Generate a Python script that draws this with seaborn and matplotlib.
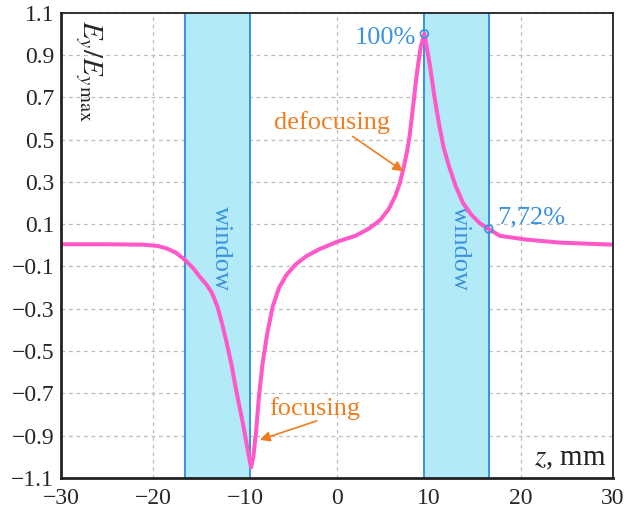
"""Normalized field E_y / E_y max along z with two windows."""

import matplotlib.pyplot as plt
import pandas as pd
import seaborn as sns

# curve
Z_MM = [-30, -25, -21, -19.5, -18.5, -17.5, -16.5, -15.6, -14.9, -14.2, -13.6, -13.0,
        -12.5, -12.0, -11.5, -10.9, -10.2, -9.7, -9.35, -9.1, -8.8, -8.5, -8.1, -7.6,
        -7.0, -6.3, -5.5, -4.5, -3.3, -2.0, 0, 2.0, 3.5, 4.7, 5.6, 6.3, 6.8, 7.2, 7.6,
        7.9, 8.3, 8.7, 9.1, 9.5, 10.1, 10.6, 11.1, 11.6, 12.2, 12.9, 13.7, 14.6, 15.5,
        16.5, 17.7, 20.6, 24.2, 30]
EY_NORM = [0.005, 0.005, 0.003, -0.003, -0.015, -0.035, -0.07, -0.11, -0.15, -0.185, -0.225, -0.29,
           -0.37, -0.46, -0.56, -0.70, -0.85, -0.97, -1.05, -1.0, -0.88, -0.72, -0.56, -0.42,
           -0.29, -0.20, -0.14, -0.09, -0.05, -0.02, 0.017, 0.045, 0.08, 0.12, 0.17, 0.23, 0.29, 0.36, 0.44,
           0.52, 0.67, 0.82, 0.94, 1.0, 0.85, 0.70, 0.57, 0.46, 0.37, 0.28, 0.20, 0.145, 0.105,
           0.0772, 0.045, 0.027, 0.013, 0.003]

WINDOWS = [(-16.5, -9.5), (9.5, 16.5)]
MARK_Z = [9.5, 16.5]
MARK_V = [1.0, 0.0772]
MARK_LABELS = ["100%", "7,72%"]

X_TICKS = [-30, -20, -10, 0, 10, 20, 30]
Y_TICKS = [-1.1, -0.9, -0.7, -0.5, -0.3, -0.1, 0.1, 0.3, 0.5, 0.7, 0.9, 1.1]

PINK = "#ff58c9"
CYAN = "#b3eaf7"
BLUE = "#3a92e0"
ORANGE = "#f07d1e"

sns.set_theme(style="white")
plt.rcParams["font.family"] = ["Liberation Serif", "DejaVu Serif"]
plt.rcParams["mathtext.fontset"] = "stix"

df = pd.DataFrame({"z": Z_MM, "ey": EY_NORM})

fig = plt.figure(figsize=(6.3, 5.09), dpi=100)
ax = fig.add_axes([0.097, 0.061, 0.876, 0.914])

for lo, hi in WINDOWS:
    ax.axvspan(lo, hi, facecolor=CYAN, edgecolor="none", zorder=1)
    for edge in (lo, hi):
        ax.axvline(edge, color=BLUE, lw=1.4, zorder=2)
    ax.text((lo + hi) / 2 + 0.4, -0.016, "window", rotation=270, color=BLUE,
            fontsize=19, ha="center", va="center", zorder=3)

sns.lineplot(data=df, x="z", y="ey", sort=False, color=PINK, lw=2.9, ax=ax, zorder=4,
             solid_joinstyle="round", solid_capstyle="round")

ax.scatter(MARK_Z, MARK_V, s=32, facecolor="none", edgecolor=BLUE, lw=1.2, zorder=5)
ax.text(MARK_Z[0] - 0.9, MARK_V[0] - 0.02, MARK_LABELS[0], color=BLUE, fontsize=19,
        ha="right", va="center", zorder=6)
ax.text(MARK_Z[1] + 0.9, MARK_V[1] + 0.055, MARK_LABELS[1], color=BLUE, fontsize=19,
        ha="left", va="center", zorder=6)

arrow = dict(arrowstyle="-|>", color=ORANGE, lw=1.2, mutation_scale=15, shrinkA=0, shrinkB=0)
ax.text(-0.5, 0.58, "defocusing", color=ORANGE, fontsize=19, ha="center", va="center", zorder=6)
ax.annotate("", xy=(7.2, 0.35), xytext=(1.7, 0.515), arrowprops=arrow, zorder=6)
ax.text(-2.4, -0.77, "focusing", color=ORANGE, fontsize=19, ha="center", va="center", zorder=6)
ax.annotate("", xy=(-8.4, -0.92), xytext=(-2.2, -0.83), arrowprops=arrow, zorder=6)

ax.text(0.022, 0.985, r"$E_y/E_{y\,\mathrm{max}}$", transform=ax.transAxes, rotation=270,
        fontsize=21, ha="left", va="top", zorder=6)
ax.text(0.988, 0.012, r"$z$, mm", transform=ax.transAxes, fontsize=21,
        ha="right", va="bottom", zorder=6)

ax.set_xlim(-30, 30)
ax.set_ylim(-1.1, 1.1)
ax.set_xticks(X_TICKS)
ax.set_yticks(Y_TICKS)
ax.set_xticklabels([str(t).replace("-", "\u2212") for t in X_TICKS])
ax.set_yticklabels([f"{t:.1f}".replace("-", "\u2212") for t in Y_TICKS])
ax.set_xlabel("")
ax.set_ylabel("")
ax.tick_params(length=0, labelsize=17)
ax.tick_params(axis="x", pad=7)
ax.tick_params(axis="y", pad=5)
ax.grid(True, color="#bdbdbd", ls=(0, (3, 3)), lw=0.9, zorder=0)
ax.set_axisbelow(True)
for side, spine in ax.spines.items():
    spine.set_color("#222222")
    spine.set_linewidth(2.0 if side in ("left", "bottom") else 1.3)
    spine.set_zorder(7)

fig.savefig("out.png", dpi=100)
